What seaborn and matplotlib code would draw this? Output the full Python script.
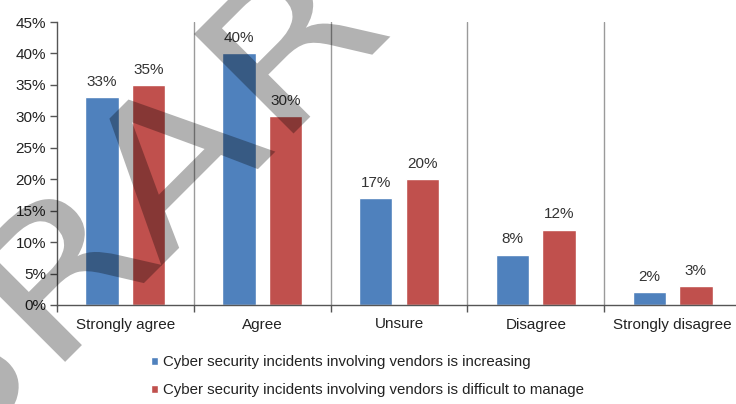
import matplotlib
matplotlib.use("Agg")
import matplotlib.pyplot as plt
from matplotlib.ticker import PercentFormatter, FixedLocator
from matplotlib.textpath import TextPath
from matplotlib.font_manager import FontProperties
from matplotlib.patches import PathPatch
from matplotlib.transforms import Affine2D, IdentityTransform
import pandas as pd
import seaborn as sns

# survey answers
responses = ["Strongly agree", "Agree", "Unsure", "Disagree", "Strongly disagree"]
increasing = [0.33, 0.40, 0.17, 0.08, 0.02]
difficult = [0.35, 0.30, 0.20, 0.12, 0.03]
series_names = [
    "Cyber security incidents involving vendors is increasing",
    "Cyber security incidents involving vendors is difficult to manage",
]
colors = ["#4F81BD", "#C0504D"]

df = pd.DataFrame({
    "response": responses * 2,
    "share": increasing + difficult,
    "series": [series_names[0]] * len(responses) + [series_names[1]] * len(responses),
})

sns.set_style("white")
plt.rcParams["font.family"] = ["Liberation Sans", "DejaVu Sans"]

fig = plt.figure(figsize=(7.36, 4.04), dpi=100)
ax = fig.add_axes([57 / 736, 99 / 404, 684 / 736, 283 / 404])

sns.barplot(data=df, x="response", y="share", hue="series", order=responses,
            hue_order=series_names, palette=colors, width=0.68, gap=0.28,
            saturation=1, ax=ax)

for cont in ax.containers:
    ax.bar_label(cont, labels=[f"{b.get_height():.0%}" for b in cont],
                 padding=6, fontsize=11, color="#333333")

handles, labels = ax.get_legend_handles_labels()
ax.get_legend().remove()

ax.set_ylim(0, 0.45)
ax.set_xlim(-0.5, len(responses) - 0.5)
ax.set_yticks([i * 0.05 for i in range(10)])
ax.yaxis.set_major_formatter(PercentFormatter(xmax=1, decimals=0))
ax.set_xlabel("")
ax.set_ylabel("")

# separators between answer groups
for i in range(len(responses) - 1):
    ax.axvline(i + 0.5, color="#9a9a9a", lw=1, zorder=0)

ax.xaxis.set_minor_locator(FixedLocator([i + 0.5 for i in range(-1, len(responses))]))
ax.tick_params(axis="x", which="major", length=0, pad=9, labelsize=11, labelcolor="#222222")
ax.tick_params(axis="x", which="minor", length=5, width=1, color="#555555", direction="out", bottom=True)
ax.tick_params(axis="y", length=5, width=1, color="#555555", direction="out", left=True,
               labelsize=11, labelcolor="#222222", pad=3)

for side in ["top", "right"]:
    ax.spines[side].set_visible(False)
for side in ["left", "bottom"]:
    ax.spines[side].set_color("#555555")
    ax.spines[side].set_linewidth(1)

fig.legend(handles, labels, loc="upper left", bbox_to_anchor=(151 / 736, 1 - 355 / 404),
           frameon=False, fontsize=10.8, handlelength=0.45, handleheight=0.45,
           handletextpad=0.35, labelspacing=0.95, borderaxespad=0, borderpad=0,
           labelcolor="#222222")

# diagonal watermark, stretched wide like the original
wm_prop = FontProperties(family="DejaVu Sans")
wm_text = "LIBRARY"
wm_size = 193
anchor_x = TextPath((0, 0), wm_text[:4], size=wm_size, prop=wm_prop).get_extents().x1
wm_path = TextPath((0, 0), wm_text, size=wm_size, prop=wm_prop)
wm_tf = (Affine2D().translate(-anchor_x, 0).scale(1.25, 1).rotate_deg(45)
         .translate(162, 404 - 265))
wm = PathPatch(wm_tf.transform_path(wm_path), facecolor="black", edgecolor="none",
               alpha=0.3, transform=IdentityTransform(), zorder=10)
fig.add_artist(wm)

fig.savefig("out.png", dpi=100)
